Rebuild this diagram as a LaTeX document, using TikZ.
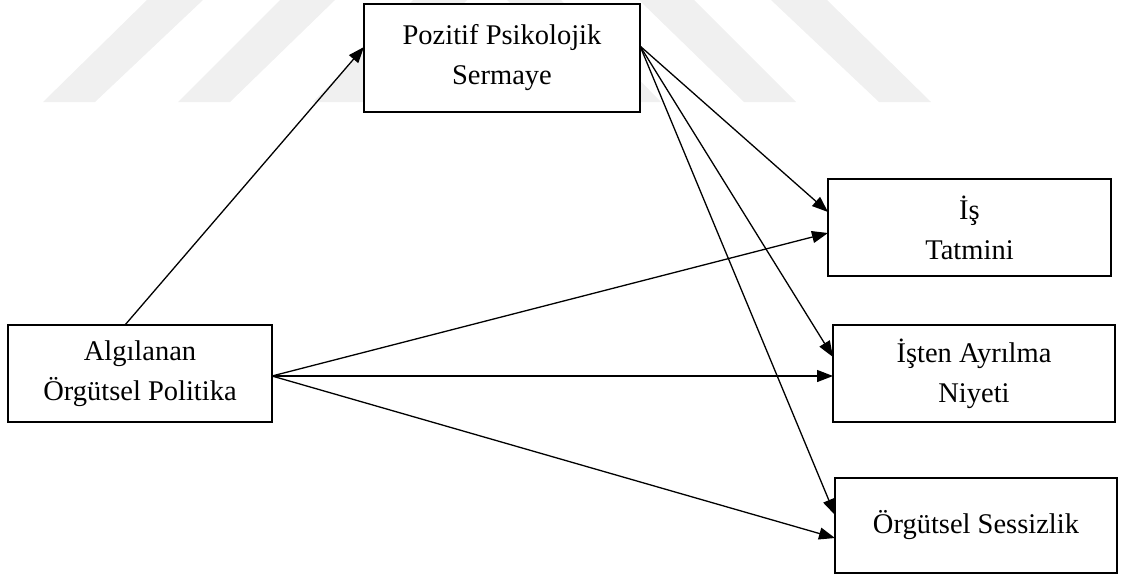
\documentclass[tikz,border=0pt]{standalone}
\usepackage{fontspec}
\setmainfont{Liberation Serif}
\usetikzlibrary{arrows.meta}

\begin{document}
\begin{tikzpicture}[x=1pt,y=-1pt,
  boxnode/.style={draw=black,line width=1.3pt,fill=white,outer sep=0pt,inner sep=0pt,
    align=center,font=\fontsize{28.5pt}{40pt}\selectfont},
  link/.style={line width=1.3pt,-{Triangle[length=16pt,width=12pt]}},
  mark stripe/.style={fill=black!6,draw=none}]
\useasboundingbox (0,0) rectangle (1123,576);

% faint background stripes along the top edge
\fill[mark stripe] (43,102) -- (95,102) -- (203,0) -- (147,0) -- cycle;
\fill[mark stripe] (178,102) -- (230,102) -- (335,0) -- (280,0) -- cycle;
\fill[mark stripe] (313,102) -- (365,102) -- (467,0) -- (413,0) -- cycle;
\fill[mark stripe] (507,0) -- (561,0) -- (661,102) -- (609,102) -- cycle;
\fill[mark stripe] (639,0) -- (694,0) -- (796,102) -- (744,102) -- cycle;
\fill[mark stripe] (771,0) -- (827,0) -- (931,102) -- (879,102) -- cycle;

% constructs
\node[boxnode,minimum width=276pt,minimum height=108pt] (pos) at (502,58)
  {Pozitif Psikolojik\\Sermaye};
\node[boxnode,minimum width=264pt,minimum height=97pt] (alg) at (140,373.5)
  {Algılanan\\Örgütsel Politika};
\node[boxnode,minimum width=283pt,minimum height=97pt] (ist) at (969.5,227.5)
  {İş\\Tatmini};
\node[boxnode,minimum width=282pt,minimum height=97pt] (ayr) at (974,373.5)
  {İşten Ayrılma\\Niyeti};
\node[boxnode,minimum width=282pt,minimum height=95pt] (ses) at (976,525.5)
  {Örgütsel Sessizlik};

% paths
\draw[link] ([xshift=-15pt]alg.north) -- ([yshift=11pt]pos.west);
\draw[link] ([yshift=12pt]pos.east) -- ([yshift=15.5pt]ist.west);
\draw[link] ([yshift=12pt]pos.east) -- ([yshift=16.5pt]ayr.west);
\draw[link] ([yshift=12pt]pos.east) -- ([yshift=10.5pt]ses.west);
\draw[link] ([yshift=-2.5pt]alg.east) -- ([yshift=-5.5pt]ist.west);
\draw[link] ([yshift=-2.5pt]alg.east) -- ([yshift=-2.5pt]ayr.west);
\draw[link] ([yshift=-2.5pt]alg.east) -- ([yshift=-12.5pt]ses.west);
\end{tikzpicture}
\end{document}
